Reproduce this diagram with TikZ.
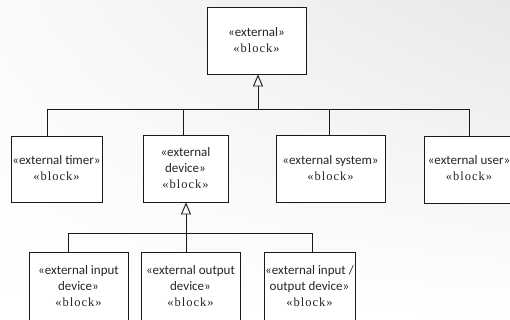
\documentclass[tikz,border=0pt]{standalone}
\usepackage{fontspec}
\setmainfont{Carlito}
\newfontfamily\blkfont[LetterSpace=8]{Liberation Serif}
\usetikzlibrary{arrows.meta,shadings}
\tikzset{
  box/.style={draw=black!90, line width=0.9pt, fill=white, inner sep=0pt},
  txt/.style={align=center, font=\fontsize{13}{16}\selectfont, inner sep=0pt, text=black!85},
  con/.style={draw=black!90, line width=0.9pt},
  gen/.style={con, -{Triangle[open, width=10pt, length=12pt, line width=0.9pt]}},
}
\newcommand{\blk}{{\blkfont\fontsize{12.5}{16}\selectfont «block»}}
\begin{document}
\begin{tikzpicture}[x=1pt,y=-1pt]
\useasboundingbox (0,0) rectangle (510,320);
\shade[upper right=black!9, upper left=black!2, lower left=white, lower right=white] (0,0) rectangle (510,320);
% boxes
\node[box, minimum width=99pt, minimum height=67pt] (top) at (256.5,40.5) {};
\node[txt] at (top.center) {«external»\\ \blk};
\node[box, minimum width=91pt, minimum height=66pt] (timer) at (56.5,169) {};
\node[txt] at ([yshift=1pt]timer.center) {«external timer»\\ \blk};
\node[box, minimum width=85pt, minimum height=67pt] (device) at (185.5,168.5) {};
\node[txt] at (device.center) {«external\\ device»\\ \blk};
\node[box, minimum width=109pt, minimum height=67pt] (system) at (330.5,168.5) {};
\node[txt] at (system.center) {«external system»\\ \blk};
\node[box, minimum width=90pt, minimum height=67pt] (user) at (469,169.5) {};
\node[txt] at ([yshift=1pt]user.center) {«external user»\\ \blk};
\node[box, anchor=north, minimum width=99pt, minimum height=80pt] (in) at (78.5,252) {};
\node[txt] at ([yshift=-34pt]in.north) {«external input\\ device»\\ \blk};
\node[box, anchor=north, minimum width=99pt, minimum height=80pt] (out) at (190.5,252) {};
\node[txt] at ([yshift=-34pt]out.north) {«external output\\ device»\\ \blk};
\node[box, anchor=north, minimum width=91pt, minimum height=80pt] (io) at (309.5,252) {};
\node[txt] at ([yshift=-34pt]io.north) {«external input /\\ output device»\\ \blk};
% upper tree
\coordinate (jtop) at (258,109);
\coordinate (jt) at (47,109);
\coordinate (jd) at (183,109);
\coordinate (js) at (329,109);
\coordinate (ju) at (469,109);
\draw[gen] (jtop) -- (top.south -| jtop);
\draw[con] (timer.north -| jt) -- (jt) -- (ju) -- (user.north -| ju);
\draw[con] (device.north -| jd) -- (jd);
\draw[con] (system.north -| js) -- (js);
% lower tree
\coordinate (ktop) at (186,233);
\coordinate (ki) at (68,233);
\coordinate (ko) at (186,233);
\coordinate (kio) at (312,233);
\draw[gen] (ktop) -- (device.south -| ktop);
\draw[con] (in.north -| ki) -- (ki) -- (kio) -- (io.north -| kio);
\draw[con] (out.north -| ko) -- (ko);
\end{tikzpicture}
\end{document}
